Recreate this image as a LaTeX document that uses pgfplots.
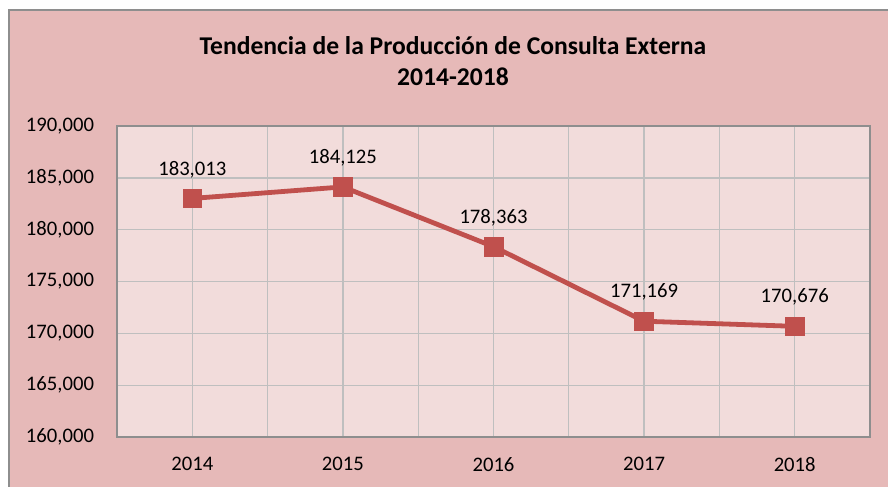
\documentclass[border=0pt]{standalone}
\usepackage{pgfplots}
\pgfplotsset{compat=1.18}
\usepackage{fontspec}
\setmainfont{Carlito}

\definecolor{outerbg}{HTML}{E6B9B8}
\definecolor{plotbg}{HTML}{F2DCDB}
\definecolor{linered}{HTML}{C0504D}
\definecolor{gridgray}{HTML}{BFBFBF}
\definecolor{framegray}{HTML}{8E8E8E}

\pgfplotstableread{
x  year  value
1  2014  183013
2  2015  184125
3  2016  178363
4  2017  171169
5  2018  170676
}\consulta

\begin{document}
\begin{tikzpicture}
\begin{scope}[x=0.75pt,y=0.75pt]
\useasboundingbox (0,0) rectangle (888,486);
\fill[white] (0,0) rectangle (888,486);
\fill[outerbg] (9,-5) rectangle (895,476);
\draw[framegray,line width=1.5pt] (9,-5) -- (9,476) -- (895,476);
\node[font=\fontsize{19.2}{23.5}\selectfont\bfseries, align=center] at (453,425)
  {Tendencia de la Producción de Consulta Externa\\2014-2018};
\end{scope}

\begin{axis}[
    at={(87.75pt,36.75pt)}, anchor=south west,
    scale only axis,
    width=564.75pt, height=233.25pt,
    xmin=0.5, xmax=5.5,
    ymin=160000, ymax=190000,
    xtick={1,2,3,4,5},
    xticklabels={2014,2015,2016,2017,2018},
    minor xtick={0.5,1.5,2.5,3.5,4.5,5.5},
    ytick={160000,165000,...,190000},
    scaled y ticks=false,
    major tick length=0pt, minor tick length=0pt,
    grid=both,
    major grid style={gridgray, line width=1pt},
    minor grid style={gridgray, line width=1pt},
    axis line style={framegray, line width=1pt},
    axis background/.style={fill=plotbg},
    tick label style={font=\fontsize{15.5}{18}\selectfont},
    yticklabel style={xshift=-13.75pt},
    xticklabel style={yshift=-11.75pt},
    /pgf/number format/.cd, fixed, 1000 sep={,}, assume math mode=true,
]
\addplot[linered, line width=3.6pt, mark=square*, mark size=7pt,
    mark options={fill=linered, draw=linered, line width=0.5pt},
    nodes near coords,
    every node near coord/.append style={font=\fontsize{15.5}{18}\selectfont, text=black, anchor=south, yshift=12pt}]
  table[x=x, y=value] {\consulta};
\end{axis}
\end{tikzpicture}
\end{document}
